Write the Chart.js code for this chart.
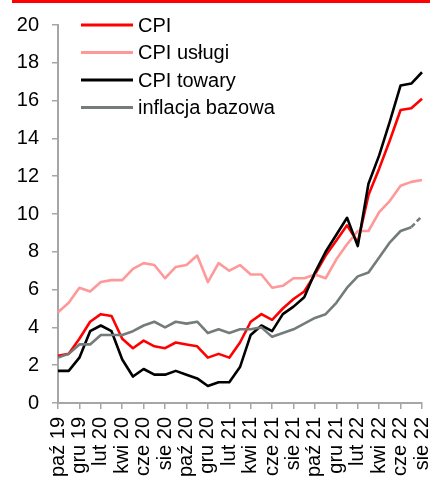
<!DOCTYPE html>
<html>
<head>
<meta charset="utf-8">
<script src="https://cdn.jsdelivr.net/npm/chart.js@4.4.0/dist/chart.umd.min.js"></script>
<style>
  html, body { margin: 0; padding: 0; background: #fff; }
  #wrap { position: relative; width: 430px; height: 477px; overflow: hidden; }
  #topbar { position: absolute; left: 12px; right: 0; top: 0; height: 3px; background: #ff0000; }
  canvas { position: absolute; left: 0; top: 0; }
</style>
</head>
<body>
<div id="wrap">
  <canvas id="chart" width="430" height="477"></canvas>
  <div id="topbar"></div>
</div>
<script>
const months = [
  'paź 19', 'lis 19', 'gru 19', 'sty 20', 'lut 20', 'mar 20', 'kwi 20', 'maj 20', 'cze 20',
  'lip 20', 'sie 20', 'wrz 20', 'paź 20', 'lis 20', 'gru 20', 'sty 21', 'lut 21', 'mar 21',
  'kwi 21', 'maj 21', 'cze 21', 'lip 21', 'sie 21', 'wrz 21', 'paź 21', 'lis 21', 'gru 21',
  'sty 22', 'lut 22', 'mar 22', 'kwi 22', 'maj 22', 'cze 22', 'lip 22', 'sie 22'
];

const cpi = [2.5, 2.6, 3.4, 4.3, 4.7, 4.6, 3.4, 2.9, 3.3, 3.0, 2.9, 3.2, 3.1, 3.0, 2.4, 2.6, 2.4, 3.2,
  4.3, 4.7, 4.4, 5.0, 5.5, 5.9, 6.8, 7.8, 8.6, 9.4, 8.5, 11.0, 12.4, 13.9, 15.5, 15.6, 16.1];

const cpiServices = [4.8, 5.3, 6.1, 5.9, 6.4, 6.5, 6.5, 7.1, 7.4, 7.3, 6.6, 7.2, 7.3, 7.8, 6.4, 7.4, 7.0, 7.3,
  6.8, 6.8, 6.1, 6.2, 6.6, 6.6, 6.8, 6.6, 7.6, 8.4, 9.1, 9.1, 10.1, 10.7, 11.5, 11.7, 11.8];

const cpiGoods = [1.7, 1.7, 2.4, 3.8, 4.1, 3.8, 2.3, 1.4, 1.8, 1.5, 1.5, 1.7, 1.5, 1.3, 0.9, 1.1, 1.1, 1.9,
  3.6, 4.1, 3.8, 4.7, 5.1, 5.6, 6.9, 8.0, 8.9, 9.8, 8.3, 11.6, 13.1, 14.9, 16.8, 16.9, 17.5];

const coreInflation = [2.4, 2.6, 3.1, 3.1, 3.6, 3.6, 3.6, 3.8, 4.1, 4.3, 4.0, 4.3, 4.2, 4.3, 3.7, 3.9, 3.7, 3.9,
  3.9, 4.0, 3.5, 3.7, 3.9, 4.2, 4.5, 4.7, 5.3, 6.1, 6.7, 6.9, 7.7, 8.5, 9.1, 9.3, 9.9];

const FONT = '"Liberation Sans", Arial, sans-serif';

// legend drawn inside the plot, top-left
const insideLegend = {
  id: 'insideLegend',
  afterDraw: (chart) => {
    const { ctx, chartArea } = chart;
    ctx.save();
    ctx.font = '20px ' + FONT;
    ctx.textBaseline = 'middle';
    ctx.textAlign = 'left';
    chart.data.datasets.forEach((ds, i) => {
      const y = chartArea.top + i * 27.5;
      const x = chartArea.left + 23;
      ctx.strokeStyle = ds.borderColor;
      ctx.lineWidth = 3;
      ctx.beginPath();
      ctx.moveTo(x, y);
      ctx.lineTo(x + 52, y);
      ctx.stroke();
      ctx.fillStyle = '#000';
      ctx.fillText(ds.label, x + 57, y + 1);
    });
    ctx.restore();
  }
};

const lineStyle = { borderWidth: 2.6, pointRadius: 0, tension: 0, borderJoinStyle: 'round', fill: false };

new Chart(document.getElementById('chart').getContext('2d'), {
  type: 'line',
  data: {
    labels: months,
    datasets: [
      { label: 'CPI', data: cpi, borderColor: '#ff0000', order: 4, ...lineStyle },
      { label: 'CPI usługi', data: cpiServices, borderColor: '#ff9999', order: 3, ...lineStyle },
      { label: 'CPI towary', data: cpiGoods, borderColor: '#000000', order: 2, ...lineStyle },
      {
        label: 'inflacja bazowa', data: coreInflation, borderColor: '#737b7b', order: 1, ...lineStyle,
        segment: {
          borderDash: (c) => (c.p1DataIndex === coreInflation.length - 1 ? [5, 3] : undefined)
        }
      }
    ]
  },
  options: {
    responsive: false,
    animation: false,
    layout: { padding: { top: 25, right: 8, left: 0, bottom: 0 } },
    plugins: {
      legend: { display: false },
      tooltip: { enabled: false }
    },
    scales: {
      x: {
        offset: false,
        grid: { drawOnChartArea: false, drawTicks: true, tickLength: 6, color: '#a6a6a6', lineWidth: 1.5 },
        border: { color: '#a6a6a6', width: 2 },
        ticks: {
          autoSkip: false,
          maxRotation: 90,
          minRotation: 90,
          padding: 8,
          color: '#000',
          font: { family: FONT, size: 20 },
          callback: function (value, index) {
            return index % 2 === 0 ? this.getLabelForValue(value) : null;
          }
        },
        afterFit: (scale) => {
          scale.height = 74;
          scale.paddingLeft = 0;
          scale.paddingRight = 0;
        }
      },
      y: {
        min: 0,
        max: 20,
        grid: { drawOnChartArea: false, drawTicks: true, tickLength: 6, color: '#a6a6a6', lineWidth: 1.5 },
        border: { color: '#a6a6a6', width: 2 },
        ticks: {
          stepSize: 2,
          padding: 13,
          color: '#000',
          font: { family: FONT, size: 20 }
        },
        afterFit: (scale) => {
          scale.width = 58;
          scale.paddingTop = 0;
          scale.paddingBottom = 0;
        }
      }
    }
  },
  plugins: [insideLegend]
});
</script>
</body>
</html>
